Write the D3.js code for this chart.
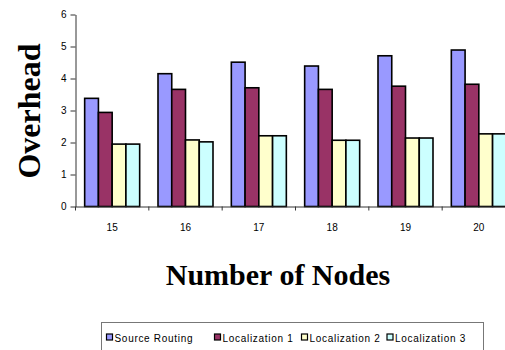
<!DOCTYPE html>
<html>
<head>
<meta charset="utf-8">
<script src="https://cdn.jsdelivr.net/npm/d3@7"></script>
<style>
  html, body { margin: 0; padding: 0; background: #fff; }
  svg { display: block; }
  .tick text { font-family: "Liberation Sans", Arial, sans-serif; font-size: 10px; fill: #000; }
</style>
</head>
<body>
<svg id="chart" width="505" height="350"></svg>
<script>
// Node counts on the x axis
const categories = ["15", "16", "17", "18", "19", "20"];
const seriesNames = ["Source Routing", "Localization 1", "Localization 2", "Localization 3"];
const seriesColors = ["#9999ff", "#993366", "#ffffcc", "#ccffff"];
// Overhead per node count, one array per series
const sourceRouting = [3.38, 4.15, 4.51, 4.39, 4.71, 4.89];
const localization1 = [2.94, 3.66, 3.71, 3.66, 3.76, 3.82];
const localization2 = [1.95, 2.08, 2.21, 2.07, 2.14, 2.27];
const localization3 = [1.95, 2.02, 2.21, 2.07, 2.14, 2.27];
const yTicks = [0, 1, 2, 3, 4, 5, 6];

const seriesValues = [sourceRouting, localization1, localization2, localization3];

const svg = d3.select("#chart");
const plotLeft = 75.5, plotRight = 515.5, plotTop = 14.5, plotBottom = 206.5;

const x = d3.scaleBand().domain(categories).range([plotLeft, plotRight])
  .paddingInner(0.25).paddingOuter(0.125);
const xs = d3.scaleBand().domain(d3.range(seriesNames.length)).range([0, x.bandwidth()]);
const y = d3.scaleLinear().domain([0, 6]).range([plotBottom, plotTop]);

// Bars
const groups = svg.append("g").selectAll("g")
  .data(categories)
  .join("g")
  .attr("transform", d => `translate(${x(d)},0)`);

groups.selectAll("rect")
  .data((c, i) => seriesValues.map((vals, s) => ({ s, v: vals[i] })))
  .join("rect")
  .attr("x", d => xs(d.s))
  .attr("width", xs.bandwidth())
  .attr("y", d => y(d.v))
  .attr("height", d => y(0) - y(d.v))
  .attr("fill", d => seriesColors[d.s])
  .attr("stroke", "#000")
  .attr("stroke-width", 1.6);

// Y axis
const yAxis = svg.append("g")
  .attr("transform", `translate(${plotLeft},0)`)
  .call(d3.axisLeft(y).tickValues(yTicks).tickFormat(d3.format("d"))
    .tickSize(5).tickSizeOuter(0).tickPadding(4));
yAxis.selectAll("line, path").attr("stroke", "#333");

// X axis: labels at band centres, tick marks at band boundaries
const xAxis = svg.append("g")
  .attr("transform", `translate(0,${plotBottom})`)
  .call(d3.axisBottom(x).tickSize(0).tickSizeOuter(0).tickPadding(17.5));
xAxis.select("path").attr("stroke", "#333");
const boundaries = categories.map(c => x(c) - x.step() * x.paddingInner() / 2);
boundaries.push(x(categories[categories.length - 1]) + x.bandwidth() + x.step() * x.paddingInner() / 2);
svg.append("g").selectAll("line")
  .data(boundaries)
  .join("line")
  .attr("x1", d => d).attr("x2", d => d)
  .attr("y1", plotBottom).attr("y2", plotBottom + 4)
  .attr("stroke", "#333");

// Axis titles
svg.append("text")
  .attr("x", 278).attr("y", 285)
  .attr("text-anchor", "middle")
  .style("font-family", "'Liberation Serif', 'Times New Roman', serif")
  .style("font-weight", "bold")
  .style("font-size", "30px")
  .text("Number of Nodes");

svg.append("text")
  .attr("transform", "translate(40,111) rotate(-90)")
  .attr("text-anchor", "middle")
  .style("font-family", "'Liberation Serif', 'Times New Roman', serif")
  .style("font-weight", "bold")
  .style("font-size", "32px")
  .text("Overhead");

// Legend
const legend = svg.append("g");
legend.append("rect")
  .attr("x", 101.5).attr("y", 322.5)
  .attr("width", 382).attr("height", 30)
  .attr("fill", "#fff").attr("stroke", "#777");
const legendX = [106.5, 214.5, 301.5, 387];
const items = legend.selectAll("g.item")
  .data(seriesNames)
  .join("g")
  .attr("class", "item")
  .attr("transform", (d, i) => `translate(${legendX[i]},334)`);
items.append("rect")
  .attr("width", 6).attr("height", 6)
  .attr("fill", (d, i) => seriesColors[i])
  .attr("stroke", "#000").attr("stroke-width", 1.2);
items.append("text")
  .attr("x", 8).attr("y", 7.5)
  .style("font-family", "'Liberation Sans', Arial, sans-serif")
  .style("font-size", "10px")
  .style("letter-spacing", "0.7px")
  .text(d => d);
</script>
</body>
</html>
